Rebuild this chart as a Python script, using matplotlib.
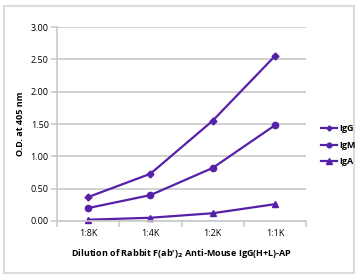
import matplotlib
matplotlib.use("Agg")
import matplotlib.pyplot as plt
from matplotlib.patches import Rectangle

categories = ["1:8K", "1:4K", "1:2K", "1:1K"]
igg = [0.37, 0.73, 1.55, 2.55]
igm = [0.20, 0.40, 0.82, 1.48]
iga = [0.02, 0.05, 0.12, 0.26]
series_names = ["IgG", "IgM", "IgA"]
yticks = [0.0, 0.5, 1.0, 1.5, 2.0, 2.5, 3.0]

color = "#5620a8"
grid = "#c9c9c9"
plt.rcParams['font.family'] = ['Open Sans', 'DejaVu Sans']

W, H = 358, 278
fig = plt.figure(figsize=(W/100, H/100), dpi=100)
fig.patches.append(Rectangle((4/W, 5/H), 350/W, 267/H, transform=fig.transFigure,
                             fill=False, edgecolor="#dcdcdc", linewidth=1.5))

ax = fig.add_axes([57/W, (H-221)/H, (306-57)/W, (221-27)/H])
x = list(range(len(categories)))
markers = ["D", "o", "^"]
sizes = [3.5, 4.5, 5]
handles = []
for vals, m, s, name in zip([igg, igm, iga], markers, sizes, series_names):
    h, = ax.plot(x, vals, color=color, lw=1.6, marker=m, ms=s, label=name, clip_on=False)
    handles.append(h)

ax.set_xlim(-0.5, 3.5)
ax.set_ylim(0, 3.0)
ax.set_yticks(yticks)
ax.set_yticklabels([f"{v:.2f}" for v in yticks], fontsize=6.5)
ax.yaxis.grid(True, color=grid, lw=1.2)
ax.set_axisbelow(True)
ax.set_xticks(x)
ax.set_xticklabels(categories, fontsize=6.5)
ax.set_xticks([-0.5, 0.5, 1.5, 2.5, 3.5], minor=True)
ax.tick_params(axis='x', which='major', length=0, pad=6)
ax.tick_params(axis='x', which='minor', length=4, color=grid, width=1.2)
ax.tick_params(axis='y', length=4, color=grid, width=1.2, pad=2)
for s in ["top", "right"]:
    ax.spines[s].set_visible(False)
for s in ["left", "bottom"]:
    ax.spines[s].set_color(grid)
    ax.spines[s].set_linewidth(1.2)

ax.set_ylabel("O.D. at 405 nm", fontsize=6.5, fontweight="bold", labelpad=4)
ax.set_xlabel("Dilution of Rabbit F(ab')$_\\mathbf{2}$ Anti-Mouse IgG(H+L)-AP", fontsize=6.5,
              fontweight="bold", labelpad=6)

leg = fig.legend(handles=handles, labels=series_names, loc="upper left",
                 bbox_to_anchor=(313/W, (H-116)/H), frameon=False,
                 handlelength=1.8, handletextpad=0.2, labelspacing=0.85, markerscale=0.75,
                 prop={'weight': 'bold', 'size': 6.5})

fig.savefig("out.png", dpi=100)
